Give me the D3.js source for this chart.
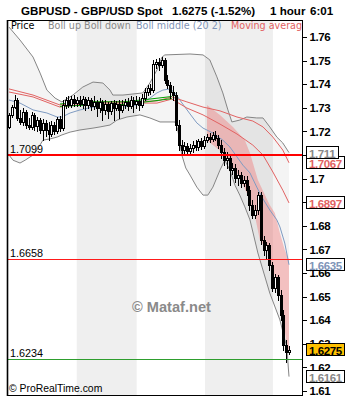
<!DOCTYPE html>
<html><head><meta charset="utf-8">
<script src="https://cdn.jsdelivr.net/npm/d3@7"></script>
<style>
body{margin:0;background:#fff;}
svg{display:block;}
</style></head><body>
<svg id="c" width="346" height="398"></svg>
<script>
// ---------- DATA ----------
const opens = [1.7219,1.7270,1.7303,1.7333,1.7257,1.7240,1.7282,1.7227,1.7219,1.7270,
1.7223,1.7248,1.7206,1.7236,1.7206,1.7189,1.7227,1.7202,1.7253,1.7214,
1.7312,1.7333,1.7312,1.7337,1.7320,1.7333,1.7316,1.7337,1.7312,1.7333,
1.7308,1.7325,1.7299,1.7325,1.7291,1.7316,1.7287,1.7320,1.7299,1.7316,
1.7291,1.7312,1.7325,1.7308,1.7333,1.7316,1.7329,1.7312,1.7341,1.7367,
1.7384,1.7375,1.7486,1.7494,1.7482,1.7503,1.7418,1.7397,1.7367,1.7354,
1.7227,1.7142,1.7121,1.7138,1.7117,1.7130,1.7142,1.7134,1.7159,1.7138,
1.7163,1.7176,1.7168,1.7185,1.7172,1.7142,1.7113,1.7078,1.7087,1.7036,
1.7045,1.7002,1.7015,1.6981,1.6994,1.6951,1.6888,1.6845,1.6867,1.6930,
1.6740,1.6697,1.6719,1.6634,1.6536,1.6583,1.6507,1.6422,1.6295,1.6265];
const closes = [1.7270,1.7303,1.7333,1.7257,1.7240,1.7282,1.7227,1.7219,1.7270,1.7223,
1.7248,1.7206,1.7236,1.7206,1.7189,1.7227,1.7202,1.7253,1.7214,1.7312,
1.7333,1.7312,1.7337,1.7320,1.7333,1.7316,1.7337,1.7312,1.7333,1.7308,
1.7325,1.7299,1.7325,1.7291,1.7316,1.7287,1.7320,1.7299,1.7316,1.7291,
1.7312,1.7325,1.7308,1.7333,1.7316,1.7329,1.7312,1.7341,1.7367,1.7384,
1.7375,1.7486,1.7494,1.7482,1.7503,1.7418,1.7397,1.7367,1.7354,1.7227,
1.7142,1.7121,1.7138,1.7117,1.7130,1.7142,1.7134,1.7159,1.7138,1.7163,
1.7176,1.7168,1.7185,1.7172,1.7142,1.7113,1.7078,1.7087,1.7036,1.7045,
1.7002,1.7015,1.6981,1.6994,1.6951,1.6888,1.6845,1.6867,1.6930,1.6740,
1.6697,1.6719,1.6634,1.6536,1.6583,1.6507,1.6422,1.6295,1.6265,1.6275];
const highs = [1.7278,1.7312,1.7354,1.7341,1.7291,1.7299,1.7291,1.7257,1.7282,1.7278,
1.7261,1.7257,1.7253,1.7248,1.7240,1.7244,1.7240,1.7261,1.7265,1.7333,
1.7346,1.7350,1.7350,1.7354,1.7346,1.7350,1.7350,1.7346,1.7346,1.7341,
1.7350,1.7333,1.7341,1.7333,1.7333,1.7325,1.7329,1.7333,1.7329,1.7333,
1.7333,1.7337,1.7341,1.7350,1.7346,1.7350,1.7346,1.7358,1.7384,1.7397,
1.7401,1.7503,1.7507,1.7511,1.7515,1.7511,1.7439,1.7409,1.7392,1.7367,
1.7248,1.7163,1.7155,1.7151,1.7147,1.7159,1.7163,1.7168,1.7172,1.7180,
1.7189,1.7193,1.7197,1.7202,1.7185,1.7163,1.7130,1.7113,1.7100,1.7066,
1.7062,1.7036,1.7028,1.7011,1.7011,1.6968,1.6909,1.6888,1.6943,1.6943,
1.6757,1.6731,1.6727,1.6647,1.6596,1.6592,1.6528,1.6443,1.6316,1.6291];
const lows = [1.7214,1.7261,1.7299,1.7248,1.7231,1.7227,1.7214,1.7210,1.7210,1.7206,
1.7202,1.7193,1.7163,1.7180,1.7163,1.7180,1.7189,1.7193,1.7202,1.7206,
1.7299,1.7303,1.7303,1.7308,1.7308,1.7308,1.7299,1.7291,1.7299,1.7291,
1.7295,1.7265,1.7282,1.7248,1.7274,1.7257,1.7274,1.7248,1.7291,1.7257,
1.7282,1.7299,1.7291,1.7299,1.7282,1.7299,1.7291,1.7303,1.7333,1.7354,
1.7358,1.7367,1.7469,1.7460,1.7473,1.7405,1.7384,1.7341,1.7333,1.7206,
1.7121,1.7100,1.7104,1.7104,1.7104,1.7113,1.7121,1.7121,1.7125,1.7130,
1.7155,1.7155,1.7159,1.7163,1.7130,1.7087,1.7057,1.7045,1.6972,1.7019,
1.6985,1.6972,1.6964,1.6968,1.6930,1.6867,1.6833,1.6833,1.6850,1.6723,
1.6676,1.6664,1.6613,1.6524,1.6519,1.6486,1.6401,1.6274,1.6223,1.6257];

const bollUpIdx = [0,3.9,8.5,11,13.4,16.3,18.7,22.6,26.1,29.7,33.2,35.7,36.7,40.3,47.3,49.8,52.3,54.1,55.1,64,68.6,71,73.5,75.6,77.4,78.8,81.6,84.1,87.6,89.8,92.2,94.7,96.8,99];
const bollUp = [1.7642,1.7587,1.7515,1.7447,1.7375,1.7341,1.7325,1.7354,1.7388,1.7409,1.7405,1.7375,1.7354,1.7354,1.7363,1.7405,1.7460,1.7515,1.7524,1.7528,1.7524,1.7503,1.7431,1.7363,1.7291,1.7240,1.7248,1.7261,1.7257,1.7257,1.7219,1.7176,1.7151,1.7110];
const bollDownIdx = [0,1.4,3.9,5.7,8.5,9.9,12,14.5,17,18.7,21.6,25.1,29.7,32.2,35.7,38.2,41.7,46.3,49.8,53.4,58.7,59.7,61.1,62.5,64,66.4,68.6,70.3,72.1,74.6,76.3,78.1,79.9,81.6,83.4,85.2,88,92.2,95.8,98.2,99];
const bollDown = [1.7100,1.7078,1.7066,1.7078,1.7100,1.7121,1.7163,1.7168,1.7176,1.7185,1.7197,1.7206,1.7214,1.7219,1.7227,1.7248,1.7261,1.7270,1.7257,1.7240,1.7240,1.7206,1.7100,1.7045,1.7015,1.6964,1.6930,1.6930,1.6964,1.7036,1.7078,1.7036,1.6972,1.6930,1.6880,1.6825,1.6685,1.6515,1.6401,1.6286,1.6161];
const bollMidIdx = [0,3.9,8.5,13.4,17,18.7,21.6,25.1,29.7,35.7,40.3,45.2,47.3,49.8,52.3,54.4,56.9,58.7,60.4,64,66.4,68.6,72.1,75.6,78.1,80.6,82.7,85.2,87.6,89.4,92.2,94.7,95.8,97.5,99];
const bollMid = [1.7333,1.7320,1.7291,1.7278,1.7261,1.7261,1.7278,1.7291,1.7303,1.7303,1.7303,1.7312,1.7320,1.7341,1.7363,1.7375,1.7380,1.7363,1.7333,1.7274,1.7236,1.7214,1.7193,1.7163,1.7134,1.7092,1.7057,1.7024,1.6964,1.6922,1.6867,1.6825,1.6795,1.6727,1.6635];
const maIdx = [0,8.5,18,28.6,40.3,52.3,57.6,62.9,68.6,74.6,80.6,86.2,89.8,93.3,96.8,99];
const maSlow = [1.7380,1.7354,1.7312,1.7325,1.7325,1.7329,1.7346,1.7325,1.7303,1.7287,1.7261,1.7244,1.7219,1.7176,1.7121,1.7067];
const maFast = [1.7367,1.7346,1.7303,1.7320,1.7320,1.7320,1.7337,1.7299,1.7270,1.7231,1.7189,1.7142,1.7100,1.7028,1.6951,1.6897];
const greenIdx = [18,28.6,40.3,49.8,57.6];
const green1 = [1.7316,1.7326,1.7325,1.7337,1.7348];
const green2 = [1.7306,1.7312,1.7314,1.7327,1.7339];
const pinkTopIdx = [70,74.6,79.2,83.4,85.2,88,90.5,92.2,94,95.8,97.5,99];
const pinkTop = [1.7312,1.7270,1.7219,1.7163,1.7108,1.6994,1.6930,1.6888,1.6854,1.6769,1.6697,1.6655];
const pinkBotIdx = [70,75.6,80.6,84.1,86.9,88.7,91.5,94,95.8,96.8,98.2,99];
const pinkBot = [1.7163,1.7108,1.7024,1.6939,1.6845,1.6740,1.6689,1.6583,1.6515,1.6431,1.6286,1.6261];
const sessionStart = [23.95,69.3];
const sessionEnd = [45.15,93.3];
const levels = [1.7099,1.6658,1.6234];
const levelLabels = ["1.7099","1.6658","1.6234"];
const yTicks = [1.61,1.62,1.63,1.64,1.65,1.66,1.67,1.68,1.69,1.70,1.71,1.72,1.73,1.74,1.75,1.76];
const header = ["GBPUSD - GBP/USD Spot","1.6275 (-1.52%)","1 hour","6:01"];
const legendItems = ["Price","Boll up Boll down","Boll middle (20 2)","Moving average"];

// ---------- CHART ----------
const svg = d3.select('#c');
const P = {l:7, t:20, r:302, b:395};
const x = d3.scaleLinear().domain([0,99]).range([9,289]);
const y = d3.scaleLinear().domain([1.61,1.76]).range([391,37]);
const SANS = "'Liberation Sans', Arial, sans-serif";

svg.append('rect').attr('width',346).attr('height',398).attr('fill','#fff');
svg.append('defs').append('clipPath').attr('id','clip')
  .append('rect').attr('x',P.l).attr('y',P.t).attr('width',P.r-P.l).attr('height',P.b-P.t);
const g = svg.append('g').attr('clip-path','url(#clip)');

// session bands
g.selectAll('rect.band').data(sessionStart.map((s,i)=>[s,sessionEnd[i]])).join('rect')
  .attr('x',d=>x(d[0])).attr('width',d=>x(d[1])-x(d[0]))
  .attr('y',P.t).attr('height',P.b-P.t).attr('fill','#efefef');

const pts = (idx,vals)=>idx.map((t,i)=>[t,vals[i]]);
const line = d3.line().x(d=>x(d[0])).y(d=>y(d[1]));

// Bollinger fill
const upP = pts(bollUpIdx,bollUp), dnP = pts(bollDownIdx,bollDown);
g.append('path').attr('d', line(upP.concat(dnP.slice().reverse()))+'Z')
  .attr('fill','rgba(0,0,0,0.045)');

// pink channel
const ptP = pts(pinkTopIdx,pinkTop), pbP = pts(pinkBotIdx,pinkBot);
g.append('path').attr('d', line(ptP.concat(pbP.slice().reverse()))+'Z')
  .attr('fill','rgba(240,120,120,0.42)');

// indicator lines
const drawLine=(p,c,w)=>g.append('path').attr('d',line(p)).attr('fill','none').attr('stroke',c).attr('stroke-width',w||1);
drawLine(upP,'#858585');
drawLine(dnP,'#858585');
drawLine(pts(bollMidIdx,bollMid),'#7f9bc2');
drawLine(pts(maIdx,maSlow),'#e26262');
drawLine(pts(maIdx,maFast),'#e26262');
drawLine(pts(greenIdx,green1),'#00a000');
drawLine(pts(greenIdx,green2),'#00a000');

// candles
const cd = closes.map((c,i)=>({i,o:opens[i],h:highs[i],l:lows[i],c}));
const cg = g.append('g').attr('shape-rendering','crispEdges');
cd.forEach(d=>{
  const cx = Math.round(x(d.i));
  cg.append('line').attr('x1',cx+0.5).attr('x2',cx+0.5)
    .attr('y1',Math.round(y(d.h))).attr('y2',Math.round(y(d.l))+1)
    .attr('stroke','#000').attr('stroke-width',1);
  const top = Math.round(y(Math.max(d.o,d.c))), bot = Math.round(y(Math.min(d.o,d.c)));
  if (d.c < d.o) {
    cg.append('rect').attr('x',cx-1).attr('width',3).attr('y',top).attr('height',Math.max(1,bot-top+1)).attr('fill','#000');
  } else {
    cg.append('rect').attr('x',cx-0.5).attr('width',2).attr('y',top+0.5).attr('height',Math.max(1,bot-top))
      .attr('fill','#fff').attr('stroke','#000').attr('stroke-width',1);
  }
});

// horizontal levels (drawn as filled rects)
const lvColors = ['#ff0000','#ff1a1a','#2e9e2e'], lvW=[2,1,1];
levels.forEach((v,i)=>{
  const yy = Math.round(y(v)) - (lvW[i]===2 ? 1 : 0);
  g.append('rect').attr('x',P.l).attr('width',P.r-P.l+1).attr('y',yy).attr('height',lvW[i])
    .style('fill',lvColors[i]);
  g.append('text').attr('x',10).attr('y',Math.round(y(v))-2).text(levelLabels[i])
    .attr('font-family',SANS).attr('font-size','10.8px').attr('fill','#000');
});

// watermark
svg.append('text').attr('x',132).attr('y',312).text('© Mataf.net')
  .attr('font-family',SANS).attr('font-weight','bold').attr('font-size','14.6px').attr('fill','#8a8a8a');
svg.append('text').attr('x',9).attr('y',392).text('© ProRealTime.com')
  .attr('font-family',SANS).attr('font-size','10.4px').attr('fill','#000');

// legend
const legX=[11,48,136,231], legC=['#000','#888','#7f95b8','#e26262'];
legendItems.forEach((t,i)=>{
  g.append('text').attr('x',legX[i]).attr('y',29).text(t)
    .attr('font-family',"'DejaVu Sans', Verdana, sans-serif").attr('font-size','9.6px').attr('fill',legC[i]);
});

// frame
svg.append('rect').attr('x',P.l+0.5).attr('y',P.t+0.5).attr('width',P.r-P.l).attr('height',P.b-P.t)
  .attr('fill','none').attr('stroke','#000').attr('stroke-width',1).attr('shape-rendering','crispEdges');
svg.append('line').attr('x1',P.l+0.5).attr('x2',P.l+0.5).attr('y1',P.t).attr('y2',P.b+1).attr('stroke','#000').attr('stroke-width',1.6);

// right axis
const ax = svg.append('g').attr('transform',`translate(${P.r+0.5},0)`)
  .call(d3.axisRight(y).tickValues(yTicks).tickFormat(d3.format('.2~f')).tickSize(4).tickSizeOuter(0).tickPadding(3));
ax.select('.domain').remove();
ax.selectAll('line').attr('shape-rendering','crispEdges');
ax.selectAll('text').attr('font-family',SANS).attr('font-weight','bold').attr('font-size','11.5px')
  .attr('fill','#000').attr('letter-spacing','-0.4px');

// value boxes
const boxes = [
  {v:maSlow[maSlow.length-1], c:'#e26262', bg:'#fff', f:'.4f'},
  {v:maFast[maFast.length-1], c:'#e26262', bg:'#fff', f:'.4f'},
  {v:bollUp[bollUp.length-1], c:'#888', bg:'#fff', f:'.4~f'},
  {v:bollMid[bollMid.length-1], c:'#7f95b8', bg:'#fff', f:'.4f'},
  {v:bollDown[bollDown.length-1], c:'#888', bg:'#fff', f:'.4f'},
  {v:closes[closes.length-1], c:'#000', bg:'#ffc000', f:'.4f'}
];
boxes.forEach(b=>{
  const cy = y(b.v);
  const bg = svg.append('g');
  const r = bg.append('rect');
  const t = bg.append('text').attr('x',309).attr('y',Math.round(cy)+4.5).text(d3.format(b.f)(b.v))
    .attr('font-family',SANS).attr('font-weight','bold').attr('font-size','11.5px').attr('fill',b.c)
    .attr('letter-spacing','-0.4px');
  const w = t.node().getComputedTextLength();
  r.attr('x',306.5).attr('y',Math.round(cy)-6.5).attr('width',Math.ceil(w)+5).attr('height',12)
    .attr('fill',b.bg).attr('stroke','#000').attr('stroke-width',1).attr('shape-rendering','crispEdges');
});

// header
const hx=[21,172,270,310];
header.forEach((t,i)=>{
  svg.append('text').attr('x',hx[i]).attr('y',15).text(t)
    .attr('font-family',SANS).attr('font-weight','bold').attr('font-size','11.6px').attr('fill','#000');
});
</script>
</body></html>
